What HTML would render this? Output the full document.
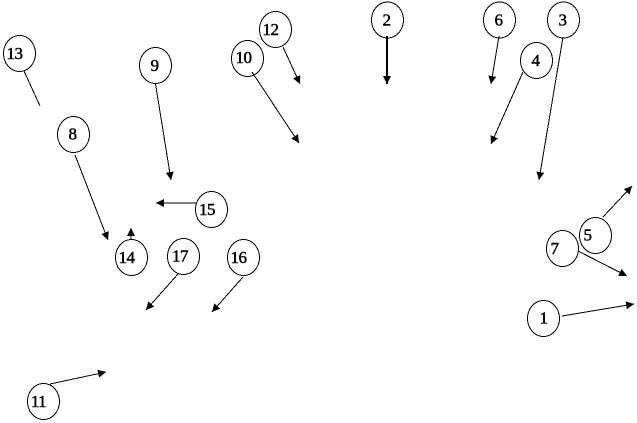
<!DOCTYPE html>
<html>
<head>
<meta charset="utf-8">
<style>
html,body{margin:0;padding:0;background:#fff;width:637px;height:423px;overflow:hidden}
svg{display:block}
text{font-family:"Liberation Serif",serif;font-size:17px;letter-spacing:-.5px;text-anchor:middle;fill:#000;stroke:#000;stroke-width:.45px}
ellipse{fill:none;stroke:#000;stroke-width:1;shape-rendering:crispEdges}
line{stroke:#000;stroke-width:1;shape-rendering:crispEdges}
</style>
</head>
<body>
<svg width="637" height="423" viewBox="0 0 637 423" xmlns="http://www.w3.org/2000/svg">
<defs>
<marker id="a" markerUnits="userSpaceOnUse" markerWidth="9" markerHeight="8" refX="8" refY="4" orient="auto">
<path d="M0,0 L8,4 L0,8 Z" fill="#000"/>
</marker>
</defs>
<line x1="24" y1="71" x2="40" y2="106"/>
<line x1="155.5" y1="84" x2="171" y2="180" marker-end="url(#a)"/>
<line x1="283" y1="47" x2="300" y2="84" marker-end="url(#a)"/>
<line x1="252" y1="72" x2="299" y2="143" marker-end="url(#a)"/>
<line x1="75" y1="155" x2="108" y2="240" marker-end="url(#a)"/>
<line x1="196" y1="203" x2="156" y2="203" marker-end="url(#a)"/>
<line x1="387" y1="36" x2="387" y2="84" style="stroke-width:2" marker-end="url(#a)"/>
<line x1="499" y1="36" x2="491" y2="84" marker-end="url(#a)"/>
<line x1="563" y1="37" x2="539" y2="180" marker-end="url(#a)"/>
<line x1="523" y1="72" x2="491" y2="144" marker-end="url(#a)"/>
<line x1="603" y1="217" x2="632" y2="186" marker-end="url(#a)"/>
<line x1="578" y1="251" x2="627" y2="276" marker-end="url(#a)"/>
<line x1="562" y1="316" x2="634" y2="304" marker-end="url(#a)"/>
<line x1="131" y1="239" x2="131" y2="228" marker-end="url(#a)"/>
<line x1="178" y1="274" x2="146" y2="310" marker-end="url(#a)"/>
<line x1="243" y1="277" x2="212" y2="312" marker-end="url(#a)"/>
<line x1="50" y1="384" x2="106" y2="372" marker-end="url(#a)"/>
<ellipse cx="19.5" cy="53.5" rx="16" ry="18"/>
<ellipse cx="155.5" cy="65.5" rx="16" ry="18"/>
<ellipse cx="275.5" cy="29.5" rx="16" ry="18"/>
<ellipse cx="247.5" cy="58.5" rx="16" ry="18"/>
<ellipse cx="73.5" cy="134.5" rx="16" ry="18"/>
<ellipse cx="211.5" cy="209.5" rx="16" ry="18"/>
<ellipse cx="387.5" cy="20" rx="16" ry="18"/>
<ellipse cx="499.5" cy="20" rx="16" ry="18"/>
<ellipse cx="563.5" cy="20" rx="16" ry="18"/>
<ellipse cx="536.5" cy="60.5" rx="16" ry="18"/>
<ellipse cx="131.5" cy="257.5" rx="16" ry="18"/>
<ellipse cx="183.5" cy="256.5" rx="16" ry="18"/>
<ellipse cx="243.5" cy="257.5" rx="16" ry="18"/>
<ellipse cx="43.5" cy="401.5" rx="16" ry="18"/>
<ellipse cx="595.5" cy="235.5" rx="16" ry="18"/>
<ellipse cx="562.5" cy="248.5" rx="16" ry="18"/>
<ellipse cx="543.5" cy="318.5" rx="16" ry="18"/>
<text x="14.5" y="59">13</text>
<text x="154.5" y="71">9</text>
<text x="270.5" y="35">12</text>
<text x="243.5" y="63">10</text>
<text x="72.5" y="139.5">8</text>
<text x="207" y="215">15</text>
<text x="386.5" y="25.5">2</text>
<text x="498.5" y="25.5">6</text>
<text x="562.5" y="25.5">3</text>
<text x="535.5" y="66">4</text>
<text x="126.5" y="263">14</text>
<text x="180" y="261.5">17</text>
<text x="238.5" y="263">16</text>
<text x="38.5" y="407">11</text>
<text x="587.5" y="240.5">5</text>
<text x="554.5" y="254">7</text>
<text x="543.5" y="323.5">1</text>
</svg>
</body>
</html>
